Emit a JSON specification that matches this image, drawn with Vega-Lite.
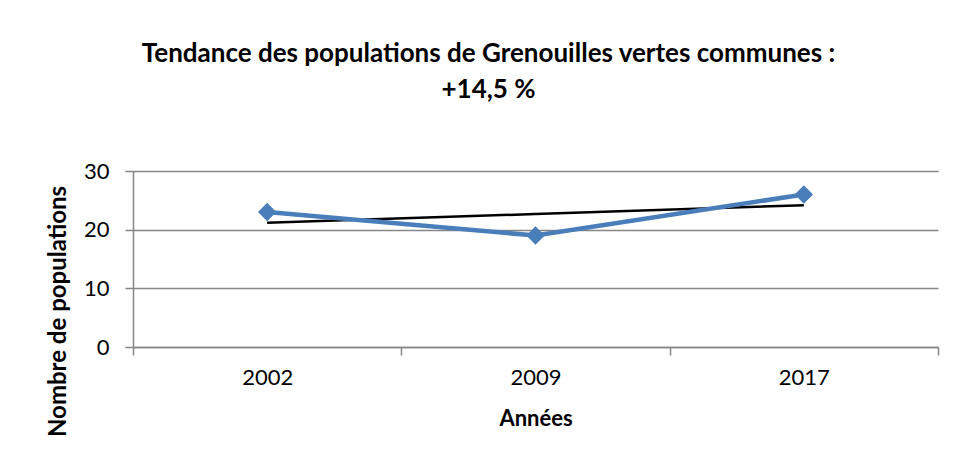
{
  "$schema": "https://vega.github.io/schema/vega-lite/v6.json",
  "width": 805,
  "height": 176,
  "autosize": {"type": "none"},
  "padding": {"left": 133, "top": 171, "right": 17, "bottom": 116},
  "background": "white",
  "config": {
    "view": {"stroke": null},
    "font": "Lato"
  },
  "title": {
    "text": ["Tendance des populations de Grenouilles vertes communes :", "+14,5 %"],
    "font": "Lato",
    "fontSize": 26,
    "fontWeight": "bold",
    "lineHeight": 36,
    "anchor": "middle",
    "dx": -47,
    "offset": 57,
    "color": "black"
  },
  "data": {
    "values": [
      {"annee": "2002", "populations": 23, "tendance": 21.17},
      {"annee": "2009", "populations": 19, "tendance": 22.67},
      {"annee": "2017", "populations": 26, "tendance": 24.17}
    ]
  },
  "encoding": {
    "x": {
      "field": "annee",
      "type": "ordinal",
      "scale": {"type": "band", "paddingInner": 0, "paddingOuter": 0},
      "axis": {
        "title": "Années",
        "titleFont": "Lato",
        "titleFontSize": 22,
        "titleFontWeight": "bold",
        "titleColor": "black",
        "titlePadding": 20,
        "labelAngle": 0,
        "labelFont": "Lato",
        "labelFontSize": 22,
        "labelColor": "black",
        "labelPadding": 12,
        "tickBand": "extent",
        "tickSize": 8,
        "tickColor": "#868686",
        "tickWidth": 1.5,
        "domainColor": "#868686",
        "domainWidth": 1.5,
        "grid": false
      }
    }
  },
  "layer": [
    {
      "mark": {"type": "line", "color": "black", "strokeWidth": 2.5},
      "encoding": {
        "y": {
          "field": "tendance",
          "type": "quantitative",
          "scale": {"domain": [0, 30]},
          "axis": {
            "title": "Nombre de populations",
            "titleFont": "Lato",
            "titleFontSize": 24,
            "titleFontWeight": "bold",
            "titleColor": "black",
            "titleX": -75,
            "titleY": 140,
            "titleAlign": "center",
            "titleBaseline": "middle",
            "titleAngle": -90,
            "values": [0, 10, 20, 30],
            "labelFont": "Lato",
            "labelFontSize": 22,
            "labelColor": "black",
            "labelPadding": 16,
            "tickSize": 8,
            "tickColor": "#868686",
            "tickWidth": 1.5,
            "domainColor": "#868686",
            "domainWidth": 1.5,
            "grid": true,
            "gridColor": "#868686",
            "gridWidth": 1.5
          }
        }
      }
    },
    {
      "mark": {
        "type": "line",
        "color": "#4A7EBB",
        "strokeWidth": 4.5,
        "point": {"shape": "diamond", "size": 340, "color": "#4A7EBB", "filled": true, "opacity": 1}
      },
      "encoding": {
        "y": {"field": "populations", "type": "quantitative"}
      }
    }
  ]
}
